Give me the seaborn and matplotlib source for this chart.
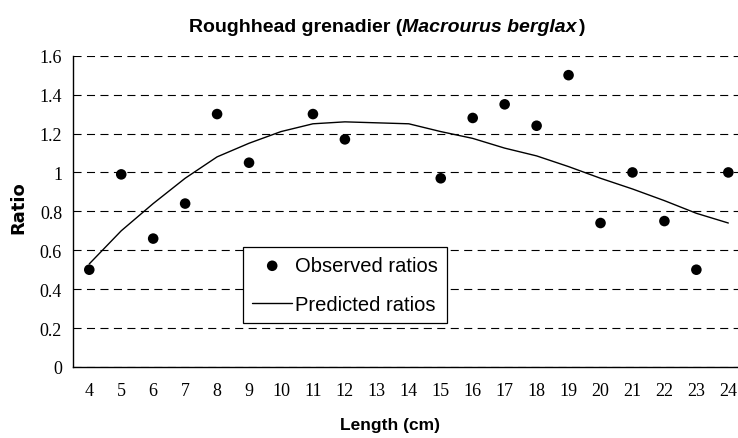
import matplotlib
matplotlib.use("Agg")
import matplotlib.pyplot as plt
from matplotlib import font_manager
import seaborn as sns
import pandas as pd
import numpy as np

# ---------------- data ----------------
lengths = [4, 5, 6, 7, 8, 9, 10, 11, 12, 13, 14, 15, 16, 17, 18, 19, 20, 21, 22, 23, 24]
observed = [0.50, 0.99, 0.66, 0.84, 1.30, 1.05, np.nan, 1.30, 1.17, np.nan, np.nan,
            0.97, 1.28, 1.35, 1.24, 1.50, 0.74, 1.00, 0.75, 0.50, 1.00]
predicted = [0.53, 0.70, 0.84, 0.97, 1.08, 1.15, 1.21, 1.25, 1.26, 1.255, 1.25,
             1.21, 1.175, 1.125, 1.085, 1.03, 0.97, 0.915, 0.855, 0.79, 0.74]
y_ticks = [0, 0.2, 0.4, 0.6, 0.8, 1.0, 1.2, 1.4, 1.6]
y_tick_labels = ["0", "0.2", "0.4", "0.6", "0.8", "1", "1.2", "1.4", "1.6"]
title_main = "Roughhead grenadier ("
title_species = "Macrourus berglax"
title_end = ")"
x_label = "Length (cm)"
y_label = "Ratio"
legend_labels = ["Observed ratios", "Predicted ratios"]

df = pd.DataFrame({"length": lengths, "observed": observed, "predicted": predicted})
df["pos"] = np.arange(len(df))

# ---------------- style ----------------
sns.set_style("white")
plt.rcParams["lines.scale_dashes"] = False
for key in ["text.color", "axes.labelcolor", "xtick.color", "ytick.color"]:
    plt.rcParams[key] = "black"
names = {f.name for f in font_manager.fontManager.ttflist}
if "Liberation Sans Narrow" in names:
    SANS, NSCALE = "Liberation Sans Narrow", 1.0 / 0.84
else:
    SANS, NSCALE = "Liberation Sans", 1.0
SERIF = "Liberation Serif"
plt.rcParams["font.family"] = [SANS, "DejaVu Sans"]

W, H = 738, 439
fig = plt.figure(figsize=(W / 100, H / 100), dpi=100)
fig.patch.set_facecolor("white")
left_px, right_px, top_px, bot_px = 73.3, 744.3, 56.7, 368.0
ax = fig.add_axes([left_px / W, 1 - bot_px / H, (right_px - left_px) / W, (bot_px - top_px) / H])
ax.set_facecolor("white")

# gridlines
ax.set_ylim(0, 1.6)
ax.set_xlim(-0.5, len(lengths) - 0.5)
ax.set_yticks(y_ticks)
ax.set_yticklabels(y_tick_labels)
ax.yaxis.grid(True, color="black", linestyle=(0, (5.8, 3.9)), linewidth=0.8)
ax.set_axisbelow(True)

# predicted line
sns.lineplot(data=df, x="pos", y="predicted", ax=ax, color="black", linewidth=1.0,
             label=legend_labels[1], zorder=3)
# observed points
sns.scatterplot(data=df.dropna(subset=["observed"]), x="pos", y="observed", ax=ax,
                color="black", s=58, edgecolor="none", marker="o",
                label=legend_labels[0], zorder=4)

# x axis: category boundaries as tick marks, labels in the middle
ax.set_xticks(np.arange(-0.5, len(lengths) + 0.5, 1.0))
ax.set_xticklabels([])
ax.set_xticks(np.arange(len(lengths)), minor=True)
ax.set_xticklabels([str(v) for v in lengths], minor=True)
ax.tick_params(axis="x", which="major", direction="out", length=3.6, width=0.8, color="black")
ax.tick_params(axis="x", which="minor", length=0, pad=11)
ax.tick_params(axis="y", which="major", direction="out", length=3.6, width=0.8, color="black", pad=4.5)
for lab in ax.get_xticklabels(minor=True) + ax.get_yticklabels():
    lab.set_fontfamily(SERIF)
    lab.set_fontsize(13)
    lab.set_color("black")

for s in ["top", "right"]:
    ax.spines[s].set_visible(False)
for s in ["left", "bottom"]:
    ax.spines[s].set_color("black")
    ax.spines[s].set_linewidth(1.0)

# axis labels
ax.set_xlabel(x_label, fontsize=12.5 * NSCALE, fontweight="bold", family=[SANS, "DejaVu Sans"],
              color="black")
ax.xaxis.set_label_coords((390 - left_px) / (right_px - left_px), (bot_px - 418) / (bot_px - top_px))
ax.xaxis.label.set_verticalalignment("top")
ax.set_ylabel(y_label, fontsize=13, fontweight="bold", family=["DejaVu Sans"], color="black")
ax.yaxis.set_label_coords((27 - left_px) / (right_px - left_px), (bot_px - 208) / (bot_px - top_px))

# legend
handles, labels = ax.get_legend_handles_labels()
order = [labels.index(legend_labels[0]), labels.index(legend_labels[1])]
leg = ax.legend([handles[i] for i in order], [labels[i] for i in order],
                loc="upper left", bbox_to_anchor=(243 / W, 1 - 248 / H),
                bbox_transform=fig.transFigure, borderaxespad=0,
                prop={"family": [SANS, "DejaVu Sans"], "size": 14.5 * NSCALE},
                frameon=True, fancybox=False, framealpha=1, edgecolor="black",
                borderpad=0.45, labelspacing=1.0, handlelength=2.0, handletextpad=0.12)
leg.get_frame().set_linewidth(0.9)
leg.set_zorder(10)
for t in leg.get_texts():
    t.set_color("black")

# title: bold with italic species name
fig.canvas.draw()
renderer = fig.canvas.get_renderer()
tsize = 14 * NSCALE
parts = [(title_main, "normal"), (title_species, "italic"), (title_end, "normal")]
texts = []
for txt, st in parts:
    t = fig.text(0, 0, txt, fontsize=tsize, fontweight="bold", fontstyle=st, color="black",
                 family=[SANS, "DejaVu Sans"], va="baseline", ha="left")
    texts.append(t)
widths = [t.get_window_extent(renderer).width for t in texts]
gap = 2.0
total = sum(widths) + gap
x = 387 - total / 2
base_y = 1 - 31.5 / H
for i, (t, w) in enumerate(zip(texts, widths)):
    t.set_position((x / W, base_y))
    x += w + (gap if i == 1 else 0)

fig.savefig("out.png", dpi=100)
